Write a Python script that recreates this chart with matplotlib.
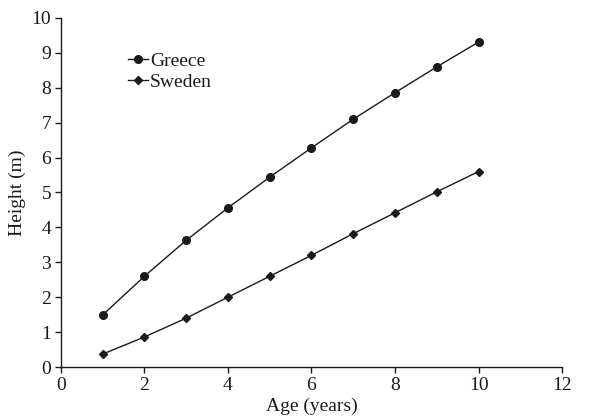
import matplotlib
matplotlib.use("Agg")
import matplotlib.pyplot as plt

plt.rcParams['font.family'] = ['Liberation Serif', 'DejaVu Serif']

age = [1, 2, 3, 4, 5, 6, 7, 8, 9, 10]
greece = [1.49, 2.6, 3.63, 4.56, 5.44, 6.28, 7.1, 7.86, 8.6, 9.31]
sweden = [0.37, 0.86, 1.4, 2.0, 2.6, 3.2, 3.82, 4.42, 5.02, 5.6]

fig = plt.figure(figsize=(6.15, 4.18), dpi=100)
ax = fig.add_axes([0.099, 0.122, 0.815, 0.835])
c = '#1a1a1a'
ax.plot(age, greece, '-', color=c, lw=1.0, marker='o', ms=5.5, label='Greece')
ax.plot(age, sweden, '-', color=c, lw=1.0, marker='D', ms=3.8, label='Sweden')

ax.set_xlim(0, 12)
ax.set_ylim(0, 10)
ax.set_xticks(range(0, 13, 2))
ax.set_yticks(range(0, 11))
for s in ['top', 'right']:
    ax.spines[s].set_visible(False)
for s in ['left', 'bottom']:
    ax.spines[s].set_color(c)
    ax.spines[s].set_linewidth(1.0)
ax.tick_params(direction='out', length=4, width=1.0, color=c, labelsize=14, labelcolor=c, pad=3)
ax.set_xlabel('Age (years)', fontsize=14, color=c, labelpad=3)
ax.set_ylabel('Height (m)', fontsize=14, color=c, labelpad=4)

leg = ax.legend(loc='upper left', bbox_to_anchor=(0.118, 0.925), frameon=False, fontsize=14,
                handlelength=1.05, handletextpad=0.1, labelspacing=0.2, borderaxespad=0)
for t in leg.get_texts():
    t.set_color(c)

fig.savefig('out.png', dpi=100)
